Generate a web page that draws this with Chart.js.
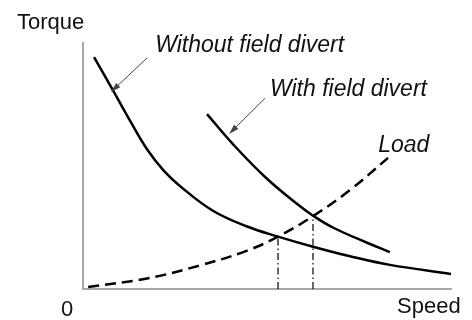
<!DOCTYPE html>
<html>
<head>
<meta charset="utf-8">
<script src="https://cdn.jsdelivr.net/npm/chart.js@4.4.1/dist/chart.umd.min.js"></script>
<style>
  html, body { margin: 0; padding: 0; background: #fff; }
  #wrap { width: 472px; height: 320px; }
</style>
</head>
<body>
<div id="wrap"><canvas id="torqueChart" width="472" height="320"></canvas></div>
<script>
// motor torque vs speed, arbitrary units 0..100
const speedWithout = [3.0, 8.2, 13.0, 17.4, 22.0, 26.4, 35.3, 44.6, 53.0, 62.5, 72.6, 83.4, 100];
const torqueWithout = [94.3, 80.6, 67.8, 56.8, 48.0, 41.8, 31.8, 25.4, 21.3, 17.2, 13.3, 9.8, 6.1];

const speedWith = [33.7, 40.8, 50.0, 59.0, 62.5, 67.9, 77.2, 83.4];
const torqueWith = [71.1, 58.8, 44.8, 33.6, 29.8, 25.0, 18.8, 15.0];

const speedLoad = [1.4, 17.4, 31.8, 44.6, 53.0, 62.5, 72.6, 82.9];
const torqueLoad = [0.8, 4.3, 9.6, 15.6, 21.3, 29.6, 40.3, 53.3];

// operating points (curve meets load)
const opSpeed = [53.0, 62.5];
const opTorque = [21.3, 29.6];

// callout labels: text, anchor (speed, torque), arrow from -> to
const labelText = ['Without field divert', 'With field divert', 'Load'];
const labelSpeed = [19.6, 50.8, 80.2];
const labelTorque = [96.3, 78.5, 55.7];
const arrowFrom = [[17.4, 93.9], [49.5, 77.6]];
const arrowTo = [[7.6, 80.1], [39.7, 63.0]];

const axisTitles = ['Torque', 'Speed', '0'];

function pts(xs, ys) {
  return xs.map((x, i) => ({ x: x, y: ys[i] }));
}

const FONT = '"Liberation Sans", Arial, Helvetica, sans-serif';

const labelsPlugin = {
  id: 'labels',
  afterDraw(chart) {
    const ctx = chart.ctx;
    const xs = chart.scales.x, ys = chart.scales.y;
    const area = chart.chartArea;
    ctx.save();

    // arrows
    ctx.strokeStyle = '#444';
    ctx.fillStyle = '#444';
    ctx.lineWidth = 1;
    for (let i = 0; i < arrowFrom.length; i++) {
      const x1 = xs.getPixelForValue(arrowFrom[i][0]), y1 = ys.getPixelForValue(arrowFrom[i][1]);
      const x2 = xs.getPixelForValue(arrowTo[i][0]), y2 = ys.getPixelForValue(arrowTo[i][1]);
      const a = Math.atan2(y2 - y1, x2 - x1);
      ctx.beginPath();
      ctx.moveTo(x1, y1);
      ctx.lineTo(x2 - 6 * Math.cos(a), y2 - 6 * Math.sin(a));
      ctx.stroke();
      ctx.beginPath();
      ctx.moveTo(x2, y2);
      ctx.lineTo(x2 - 10 * Math.cos(a) + 3 * Math.sin(a), y2 - 10 * Math.sin(a) - 3 * Math.cos(a));
      ctx.lineTo(x2 - 10 * Math.cos(a) - 3 * Math.sin(a), y2 - 10 * Math.sin(a) + 3 * Math.cos(a));
      ctx.closePath();
      ctx.fill();
    }

    // italic callouts
    ctx.fillStyle = '#111';
    ctx.font = 'italic 23px ' + FONT;
    ctx.textBaseline = 'alphabetic';
    ctx.textAlign = 'left';
    for (let i = 0; i < labelText.length; i++) {
      ctx.fillText(labelText[i], xs.getPixelForValue(labelSpeed[i]), ys.getPixelForValue(labelTorque[i]));
    }

    // axis words
    ctx.font = '22px ' + FONT;
    ctx.fillText(axisTitles[0], area.left - 66, area.top - 14);
    ctx.fillText(axisTitles[1], area.right - 54, area.bottom + 24);
    ctx.textAlign = 'center';
    ctx.fillText(axisTitles[2], area.left - 16, area.bottom + 27);
    ctx.restore();
  }
};

const curve = { borderColor: '#000', borderWidth: 2.5, pointRadius: 0, showLine: true, tension: 0.4 };
const dropLine = { borderColor: '#000', borderWidth: 1.2, pointRadius: 0, showLine: true, borderDash: [7, 3, 1.5, 3] };

new Chart(document.getElementById('torqueChart').getContext('2d'), {
  type: 'scatter',
  data: {
    datasets: [
      Object.assign({ label: 'Without field divert', data: pts(speedWithout, torqueWithout) }, curve),
      Object.assign({ label: 'With field divert', data: pts(speedWith, torqueWith) }, curve),
      Object.assign({ label: 'Load', data: pts(speedLoad, torqueLoad), borderDash: [11, 6] }, curve),
      Object.assign({ label: 'op1', data: [{ x: opSpeed[0], y: 0 }, { x: opSpeed[0], y: opTorque[0] }] }, dropLine),
      Object.assign({ label: 'op2', data: [{ x: opSpeed[1], y: 0 }, { x: opSpeed[1], y: opTorque[1] }] }, dropLine)
    ]
  },
  options: {
    responsive: false,
    animation: false,
    devicePixelRatio: 1,
    layout: { padding: { left: 83, top: 43, right: 21, bottom: 31 } },
    plugins: { legend: { display: false }, tooltip: { enabled: false } },
    scales: {
      x: {
        min: 0, max: 100,
        ticks: { display: false },
        grid: { display: false, drawTicks: false },
        border: { display: true, color: '#a8a8a8', width: 2 }
      },
      y: {
        min: 0, max: 100,
        ticks: { display: false },
        grid: { display: false, drawTicks: false },
        border: { display: true, color: '#a8a8a8', width: 2 }
      }
    }
  },
  plugins: [labelsPlugin]
});
</script>
</body>
</html>
